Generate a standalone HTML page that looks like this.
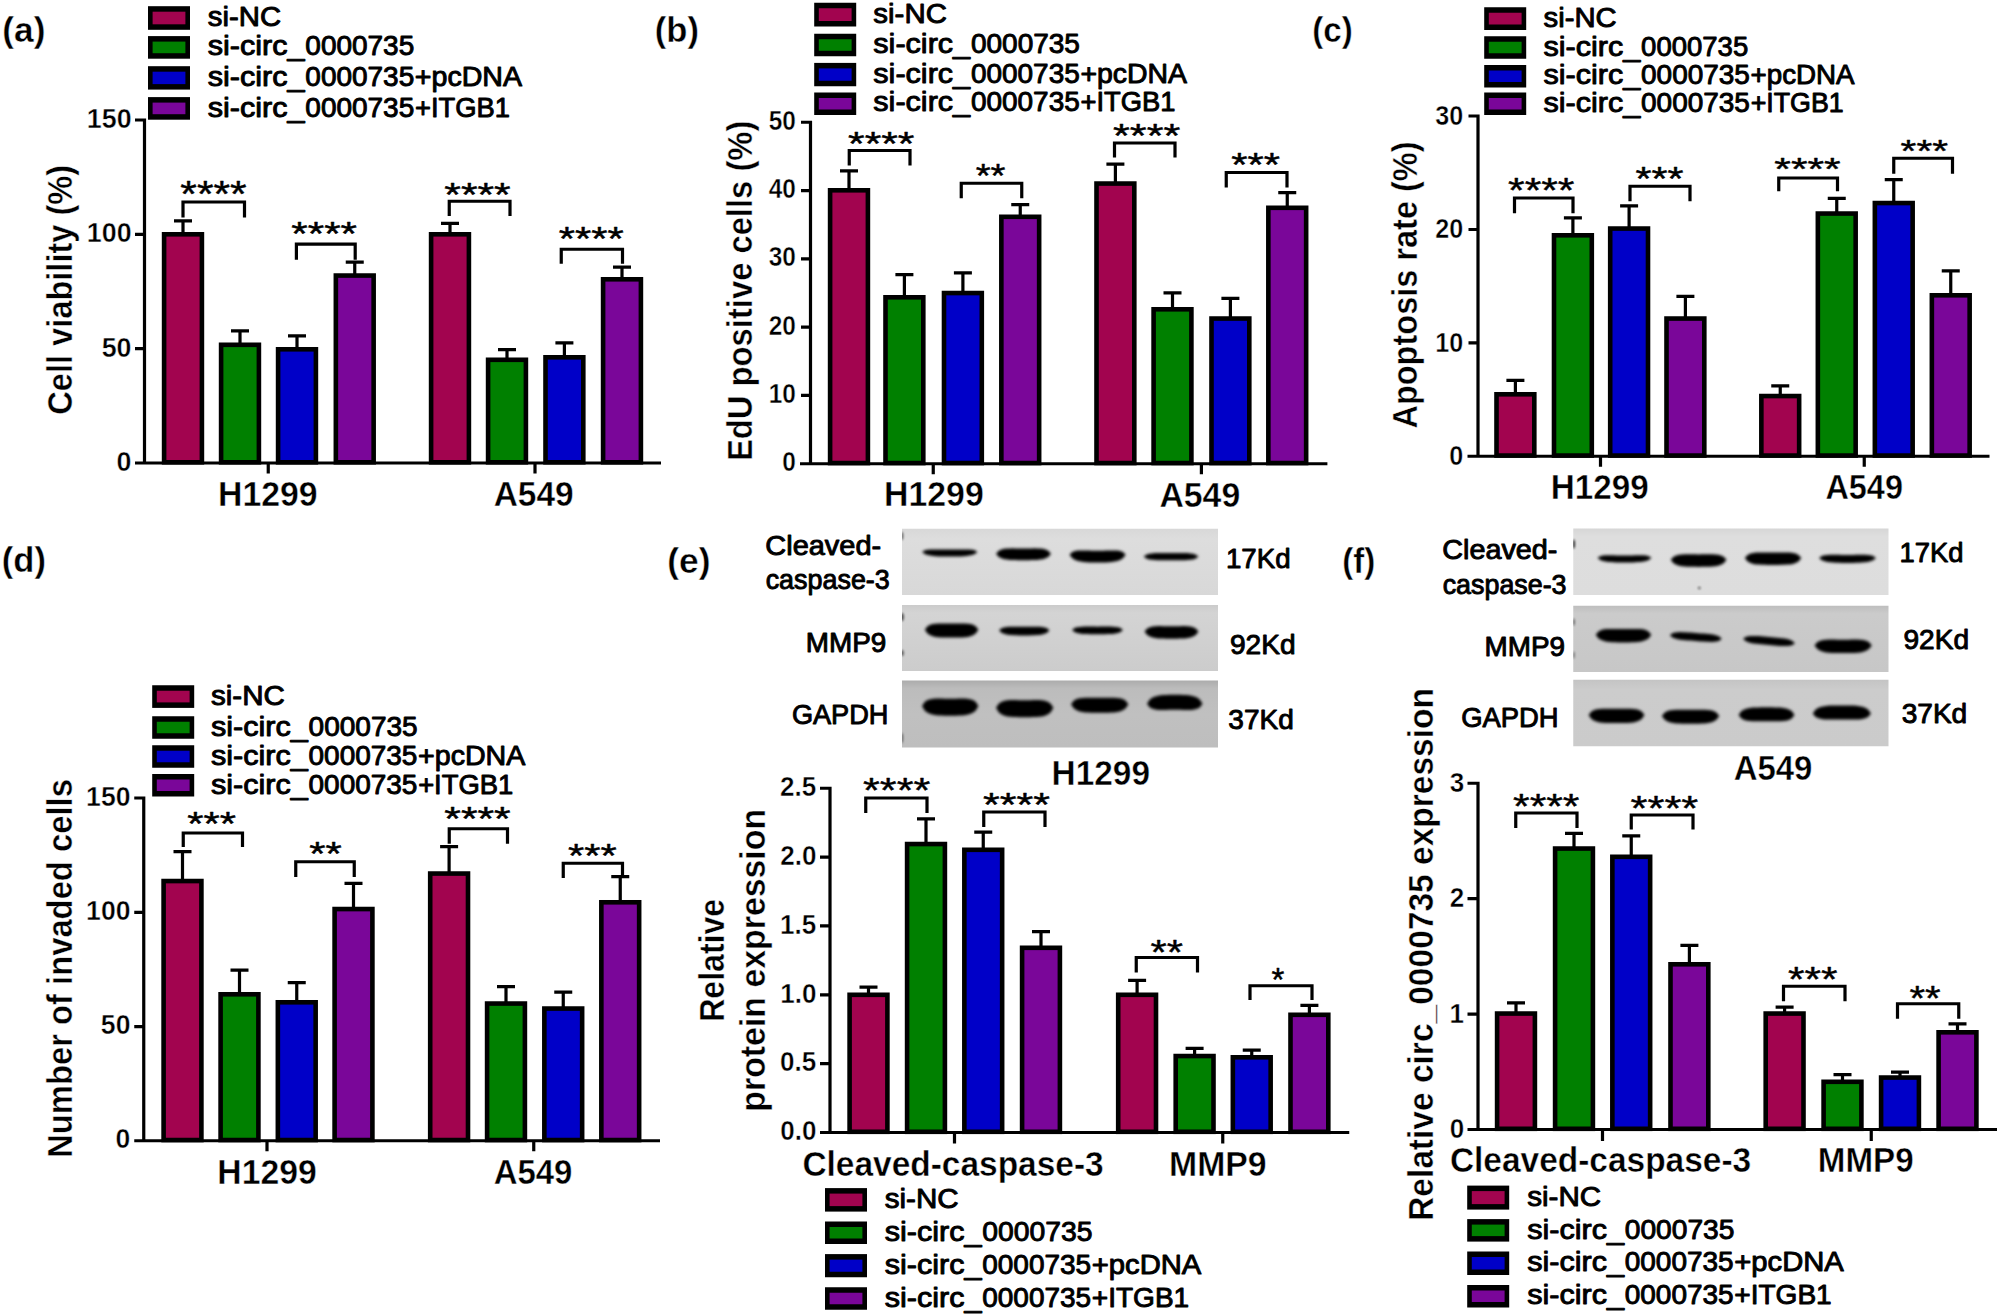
<!DOCTYPE html>
<html><head><meta charset="utf-8"><title>Figure</title>
<style>html,body{margin:0;padding:0;background:#fff}svg{display:block}text{font-family:"Liberation Sans",sans-serif;fill:#000;white-space:pre}text.r{stroke:#000;stroke-width:0.95px;stroke-linejoin:round}text.s{stroke:#000;stroke-width:0.45px;stroke-linejoin:round}text[font-weight=bold]{stroke:#fff;stroke-width:0.4px}</style>
</head><body>
<svg width="2000" height="1316" viewBox="0 0 2000 1316">
<rect width="2000" height="1316" fill="#fff"/>
<text x="2.34" y="41.66" font-size="34.3" font-weight="bold" textLength="43.08" lengthAdjust="spacingAndGlyphs" >(a)</text>
<rect x="148.00" y="6.20" width="42.00" height="23.60" fill="#000"/><rect x="152.60" y="11.70" width="32.80" height="12.60" fill="#A2044F"/>
<text x="207.82" y="26.30" font-size="27.5" class="r" textLength="73.24" lengthAdjust="spacingAndGlyphs" >si-NC</text>
<rect x="148.00" y="36.10" width="42.00" height="22.60" fill="#000"/><rect x="152.60" y="41.60" width="32.80" height="11.60" fill="#008000"/>
<text y="55.00" font-size="27.5" class="r" ><tspan x="207.78" textLength="96.81" lengthAdjust="spacingAndGlyphs">si-circ_</tspan><tspan x="305.38" textLength="108.83" lengthAdjust="spacingAndGlyphs">0000735</tspan></text>
<rect x="148.00" y="66.20" width="42.00" height="23.40" fill="#000"/><rect x="152.60" y="71.70" width="32.80" height="12.40" fill="#0000C8"/>
<text y="86.00" font-size="27.5" class="r" ><tspan x="207.78" textLength="96.81" lengthAdjust="spacingAndGlyphs">si-circ_</tspan><tspan x="305.38" textLength="108.83" lengthAdjust="spacingAndGlyphs">0000735</tspan><tspan x="414.87" textLength="107.17" lengthAdjust="spacingAndGlyphs">+pcDNA</tspan></text>
<rect x="148.00" y="97.10" width="42.00" height="22.60" fill="#000"/><rect x="152.60" y="102.60" width="32.80" height="11.60" fill="#7A0699"/>
<text y="117.10" font-size="27.5" class="r" ><tspan x="207.78" textLength="96.81" lengthAdjust="spacingAndGlyphs">si-circ_</tspan><tspan x="305.38" textLength="108.83" lengthAdjust="spacingAndGlyphs">0000735</tspan><tspan x="414.93" textLength="95.01" lengthAdjust="spacingAndGlyphs">+ITGB1</tspan></text>
<path d="M174.00,220.80H192.00M183.00,220.80V233.00" stroke="#000" stroke-width="3.2" fill="none"/>
<rect x="164.10" y="234.30" width="37.80" height="228.00" fill="#A2044F" stroke="#000" stroke-width="4.6"/>
<path d="M231.00,330.80H249.00M240.00,330.80V343.50" stroke="#000" stroke-width="3.2" fill="none"/>
<rect x="221.10" y="344.80" width="37.80" height="117.50" fill="#008000" stroke="#000" stroke-width="4.6"/>
<path d="M288.00,335.80H306.00M297.00,335.80V348.00" stroke="#000" stroke-width="3.2" fill="none"/>
<rect x="278.10" y="349.30" width="37.80" height="113.00" fill="#0000C8" stroke="#000" stroke-width="4.6"/>
<path d="M345.75,262.05H363.75M354.75,262.05V274.25" stroke="#000" stroke-width="3.2" fill="none"/>
<rect x="335.85" y="275.55" width="37.80" height="186.75" fill="#7A0699" stroke="#000" stroke-width="4.6"/>
<path d="M441.00,223.30H459.00M450.00,223.30V233.00" stroke="#000" stroke-width="3.2" fill="none"/>
<rect x="431.10" y="234.30" width="37.80" height="228.00" fill="#A2044F" stroke="#000" stroke-width="4.6"/>
<path d="M498.00,349.55H516.00M507.00,349.55V358.50" stroke="#000" stroke-width="3.2" fill="none"/>
<rect x="488.10" y="359.80" width="37.80" height="102.50" fill="#008000" stroke="#000" stroke-width="4.6"/>
<path d="M555.40,342.80H573.40M564.40,342.80V356.00" stroke="#000" stroke-width="3.2" fill="none"/>
<rect x="545.50" y="357.30" width="37.80" height="105.00" fill="#0000C8" stroke="#000" stroke-width="4.6"/>
<path d="M613.00,267.05H631.00M622.00,267.05V278.00" stroke="#000" stroke-width="3.2" fill="none"/>
<rect x="603.10" y="279.30" width="37.80" height="183.00" fill="#7A0699" stroke="#000" stroke-width="4.6"/>
<path d="M144.50,118.40V463.00M135.00,463.00H661.00M135.00,120.00H144.50M135.00,234.40H144.50M135.00,348.70H144.50M135.00,463.00H144.50M268.25,463.00V473.50M535.00,463.00V473.50" stroke="#000" stroke-width="3.2" fill="none"/>
<text x="86.79" y="127.90" font-size="26.8" font-weight="bold" textLength="44.78" lengthAdjust="spacingAndGlyphs" >150</text>
<text x="86.79" y="242.30" font-size="26.8" font-weight="bold" textLength="44.78" lengthAdjust="spacingAndGlyphs" >100</text>
<text x="101.68" y="356.60" font-size="26.8" font-weight="bold" textLength="29.85" lengthAdjust="spacingAndGlyphs" >50</text>
<text x="116.58" y="470.90" font-size="26.8" font-weight="bold" textLength="14.93" lengthAdjust="spacingAndGlyphs" >0</text>
<text x="218.00" y="506.30" font-size="35" font-weight="bold" textLength="99.64" lengthAdjust="spacingAndGlyphs" >H1299</text>
<text x="493.66" y="505.50" font-size="35" font-weight="bold" textLength="80.03" lengthAdjust="spacingAndGlyphs" >A549</text>
<text transform="translate(72.00,413.40) rotate(-90)" x="-1.30" y="0" font-size="35" font-weight="bold" textLength="249.88" lengthAdjust="spacingAndGlyphs">Cell viability (%)</text>
<path d="M183.00,217.50V202.00H244.50V217.50" stroke="#000" stroke-width="3.2" fill="none" stroke-linejoin="miter"/>
<text x="180.36" y="207.05" font-size="36.6" class="s" textLength="66.35" lengthAdjust="spacingAndGlyphs" >****</text>
<path d="M296.40,259.70V244.20H355.20V259.70" stroke="#000" stroke-width="3.2" fill="none" stroke-linejoin="miter"/>
<text x="291.37" y="244.57" font-size="33.0" class="s" textLength="65.58" lengthAdjust="spacingAndGlyphs" >****</text>
<path d="M449.25,216.00V201.25H510.00V216.00" stroke="#000" stroke-width="3.2" fill="none" stroke-linejoin="miter"/>
<text x="444.36" y="205.55" font-size="33.7" class="s" textLength="66.35" lengthAdjust="spacingAndGlyphs" >****</text>
<path d="M561.25,263.75V249.25H622.50V263.75" stroke="#000" stroke-width="3.2" fill="none" stroke-linejoin="miter"/>
<text x="558.88" y="249.59" font-size="32.3" class="s" textLength="64.81" lengthAdjust="spacingAndGlyphs" >****</text>
<text x="654.77" y="41.66" font-size="34.3" font-weight="bold" textLength="44.15" lengthAdjust="spacingAndGlyphs" >(b)</text>
<rect x="814.20" y="2.75" width="42.00" height="23.75" fill="#000"/><rect x="818.80" y="8.25" width="32.80" height="12.75" fill="#A2044F"/>
<text x="873.37" y="22.90" font-size="27.5" class="r" textLength="73.55" lengthAdjust="spacingAndGlyphs" >si-NC</text>
<rect x="814.20" y="33.75" width="42.00" height="22.50" fill="#000"/><rect x="818.80" y="39.25" width="32.80" height="11.50" fill="#008000"/>
<text y="53.10" font-size="27.5" class="r" ><tspan x="873.33" textLength="96.81" lengthAdjust="spacingAndGlyphs">si-circ_</tspan><tspan x="970.93" textLength="109.03" lengthAdjust="spacingAndGlyphs">0000735</tspan></text>
<rect x="814.20" y="62.90" width="42.00" height="23.35" fill="#000"/><rect x="818.80" y="68.40" width="32.80" height="12.35" fill="#0000C8"/>
<text y="82.50" font-size="27.5" class="r" ><tspan x="873.33" textLength="96.81" lengthAdjust="spacingAndGlyphs">si-circ_</tspan><tspan x="970.93" textLength="108.83" lengthAdjust="spacingAndGlyphs">0000735</tspan><tspan x="1080.43" textLength="106.62" lengthAdjust="spacingAndGlyphs">+pcDNA</tspan></text>
<rect x="814.20" y="92.50" width="42.00" height="22.50" fill="#000"/><rect x="818.80" y="98.00" width="32.80" height="11.50" fill="#7A0699"/>
<text y="111.25" font-size="27.5" class="r" ><tspan x="873.33" textLength="96.81" lengthAdjust="spacingAndGlyphs">si-circ_</tspan><tspan x="970.93" textLength="108.83" lengthAdjust="spacingAndGlyphs">0000735</tspan><tspan x="1080.48" textLength="94.96" lengthAdjust="spacingAndGlyphs">+ITGB1</tspan></text>
<path d="M840.00,170.80H858.00M849.00,170.80V189.00" stroke="#000" stroke-width="3.2" fill="none"/>
<rect x="830.10" y="190.30" width="37.80" height="272.75" fill="#A2044F" stroke="#000" stroke-width="4.6"/>
<path d="M895.40,274.55H913.40M904.40,274.55V296.00" stroke="#000" stroke-width="3.2" fill="none"/>
<rect x="885.50" y="297.30" width="37.80" height="165.75" fill="#008000" stroke="#000" stroke-width="4.6"/>
<path d="M953.90,272.80H971.90M962.90,272.80V291.75" stroke="#000" stroke-width="3.2" fill="none"/>
<rect x="944.00" y="293.05" width="37.80" height="170.00" fill="#0000C8" stroke="#000" stroke-width="4.6"/>
<path d="M1011.25,204.55H1029.25M1020.25,204.55V215.50" stroke="#000" stroke-width="3.2" fill="none"/>
<rect x="1001.35" y="216.80" width="37.80" height="246.25" fill="#7A0699" stroke="#000" stroke-width="4.6"/>
<path d="M1106.40,164.05H1124.40M1115.40,164.05V182.25" stroke="#000" stroke-width="3.2" fill="none"/>
<rect x="1096.50" y="183.55" width="37.80" height="279.50" fill="#A2044F" stroke="#000" stroke-width="4.6"/>
<path d="M1163.50,292.80H1181.50M1172.50,292.80V308.00" stroke="#000" stroke-width="3.2" fill="none"/>
<rect x="1153.60" y="309.30" width="37.80" height="153.75" fill="#008000" stroke="#000" stroke-width="4.6"/>
<path d="M1221.40,298.30H1239.40M1230.40,298.30V317.25" stroke="#000" stroke-width="3.2" fill="none"/>
<rect x="1211.50" y="318.55" width="37.80" height="144.50" fill="#0000C8" stroke="#000" stroke-width="4.6"/>
<path d="M1278.25,192.55H1296.25M1287.25,192.55V206.50" stroke="#000" stroke-width="3.2" fill="none"/>
<rect x="1268.35" y="207.80" width="37.80" height="255.25" fill="#7A0699" stroke="#000" stroke-width="4.6"/>
<path d="M810.50,120.65V463.75M800.00,463.75H1327.40M801.00,122.25H810.50M801.00,190.55H810.50M801.00,258.85H810.50M801.00,327.15H810.50M801.00,395.45H810.50M801.00,463.75H810.50M933.25,463.75V474.25M1201.40,463.75V474.25" stroke="#000" stroke-width="3.2" fill="none"/>
<text x="768.67" y="129.85" font-size="26.8" font-weight="bold" textLength="27.17" lengthAdjust="spacingAndGlyphs" >50</text>
<text x="768.67" y="198.15" font-size="26.8" font-weight="bold" textLength="27.17" lengthAdjust="spacingAndGlyphs" >40</text>
<text x="768.67" y="266.45" font-size="26.8" font-weight="bold" textLength="27.17" lengthAdjust="spacingAndGlyphs" >30</text>
<text x="768.67" y="334.75" font-size="26.8" font-weight="bold" textLength="27.17" lengthAdjust="spacingAndGlyphs" >20</text>
<text x="768.67" y="403.05" font-size="26.8" font-weight="bold" textLength="27.17" lengthAdjust="spacingAndGlyphs" >10</text>
<text x="782.22" y="471.35" font-size="26.8" font-weight="bold" textLength="13.58" lengthAdjust="spacingAndGlyphs" >0</text>
<text x="884.05" y="506.25" font-size="35" font-weight="bold" textLength="99.70" lengthAdjust="spacingAndGlyphs" >H1299</text>
<text x="1159.41" y="506.90" font-size="35" font-weight="bold" textLength="80.80" lengthAdjust="spacingAndGlyphs" >A549</text>
<text transform="translate(751.50,458.90) rotate(-90)" x="-2.13" y="0" font-size="35" font-weight="bold" textLength="340.36" lengthAdjust="spacingAndGlyphs">EdU positive cells (%)</text>
<path d="M849.25,165.50V150.50H910.00V165.50" stroke="#000" stroke-width="3.2" fill="none" stroke-linejoin="miter"/>
<text x="848.11" y="154.80" font-size="33.7" class="s" textLength="66.35" lengthAdjust="spacingAndGlyphs" >****</text>
<path d="M961.25,198.25V183.25H1021.75V198.25" stroke="#000" stroke-width="3.2" fill="none" stroke-linejoin="miter"/>
<text x="975.67" y="186.80" font-size="33.7" class="s" textLength="29.83" lengthAdjust="spacingAndGlyphs" >**</text>
<path d="M1114.50,157.50V143.00H1175.00V157.50" stroke="#000" stroke-width="3.2" fill="none" stroke-linejoin="miter"/>
<text x="1113.10" y="147.30" font-size="33.7" class="s" textLength="67.11" lengthAdjust="spacingAndGlyphs" >****</text>
<path d="M1226.25,187.50V172.50H1287.00V187.50" stroke="#000" stroke-width="3.2" fill="none" stroke-linejoin="miter"/>
<text x="1231.38" y="176.32" font-size="33.0" class="s" textLength="48.64" lengthAdjust="spacingAndGlyphs" >***</text>
<text x="1312.34" y="41.66" font-size="34.3" font-weight="bold" textLength="40.47" lengthAdjust="spacingAndGlyphs" >(c)</text>
<rect x="1484.20" y="7.25" width="42.00" height="22.75" fill="#000"/><rect x="1488.80" y="12.75" width="32.80" height="11.75" fill="#A2044F"/>
<text x="1543.52" y="27.10" font-size="27.5" class="r" textLength="73.14" lengthAdjust="spacingAndGlyphs" >si-NC</text>
<rect x="1484.20" y="36.25" width="42.00" height="22.50" fill="#000"/><rect x="1488.80" y="41.75" width="32.80" height="11.50" fill="#008000"/>
<text y="55.60" font-size="27.5" class="r" ><tspan x="1543.48" textLength="96.81" lengthAdjust="spacingAndGlyphs">si-circ_</tspan><tspan x="1641.10" textLength="107.09" lengthAdjust="spacingAndGlyphs">0000735</tspan></text>
<rect x="1484.20" y="65.00" width="42.00" height="22.50" fill="#000"/><rect x="1488.80" y="70.50" width="32.80" height="11.50" fill="#0000C8"/>
<text y="84.00" font-size="27.5" class="r" ><tspan x="1543.48" textLength="96.81" lengthAdjust="spacingAndGlyphs">si-circ_</tspan><tspan x="1641.08" textLength="108.83" lengthAdjust="spacingAndGlyphs">0000735</tspan><tspan x="1750.61" textLength="103.93" lengthAdjust="spacingAndGlyphs">+pcDNA</tspan></text>
<rect x="1484.20" y="92.50" width="42.00" height="22.50" fill="#000"/><rect x="1488.80" y="98.00" width="32.80" height="11.50" fill="#7A0699"/>
<text y="111.90" font-size="27.5" class="r" ><tspan x="1543.48" textLength="96.81" lengthAdjust="spacingAndGlyphs">si-circ_</tspan><tspan x="1641.08" textLength="108.83" lengthAdjust="spacingAndGlyphs">0000735</tspan><tspan x="1750.66" textLength="93.01" lengthAdjust="spacingAndGlyphs">+ITGB1</tspan></text>
<path d="M1506.40,380.30H1524.40M1515.40,380.30V393.00" stroke="#000" stroke-width="3.2" fill="none"/>
<rect x="1496.50" y="394.30" width="37.80" height="61.25" fill="#A2044F" stroke="#000" stroke-width="4.6"/>
<path d="M1563.90,217.80H1581.90M1572.90,217.80V234.00" stroke="#000" stroke-width="3.2" fill="none"/>
<rect x="1554.00" y="235.30" width="37.80" height="220.25" fill="#008000" stroke="#000" stroke-width="4.6"/>
<path d="M1620.10,205.80H1638.10M1629.10,205.80V227.25" stroke="#000" stroke-width="3.2" fill="none"/>
<rect x="1610.20" y="228.55" width="37.80" height="227.00" fill="#0000C8" stroke="#000" stroke-width="4.6"/>
<path d="M1676.40,296.30H1694.40M1685.40,296.30V317.25" stroke="#000" stroke-width="3.2" fill="none"/>
<rect x="1666.50" y="318.55" width="37.80" height="137.00" fill="#7A0699" stroke="#000" stroke-width="4.6"/>
<path d="M1771.25,385.80H1789.25M1780.25,385.80V394.75" stroke="#000" stroke-width="3.2" fill="none"/>
<rect x="1761.35" y="396.05" width="37.80" height="59.50" fill="#A2044F" stroke="#000" stroke-width="4.6"/>
<path d="M1827.75,198.30H1845.75M1836.75,198.30V212.25" stroke="#000" stroke-width="3.2" fill="none"/>
<rect x="1817.85" y="213.55" width="37.80" height="242.00" fill="#008000" stroke="#000" stroke-width="4.6"/>
<path d="M1884.75,179.55H1902.75M1893.75,179.55V201.75" stroke="#000" stroke-width="3.2" fill="none"/>
<rect x="1874.85" y="203.05" width="37.80" height="252.50" fill="#0000C8" stroke="#000" stroke-width="4.6"/>
<path d="M1941.75,270.80H1959.75M1950.75,270.80V294.00" stroke="#000" stroke-width="3.2" fill="none"/>
<rect x="1931.85" y="295.30" width="37.80" height="160.25" fill="#7A0699" stroke="#000" stroke-width="4.6"/>
<path d="M1478.00,114.40V456.25M1467.50,456.25H1989.50M1468.50,116.00H1478.00M1468.50,229.50H1478.00M1468.50,342.90H1478.00M1468.50,456.25H1478.00M1600.50,456.25V466.75M1864.25,456.25V466.75" stroke="#000" stroke-width="3.2" fill="none"/>
<text x="1435.37" y="124.70" font-size="26.8" font-weight="bold" textLength="27.99" lengthAdjust="spacingAndGlyphs" >30</text>
<text x="1435.37" y="238.20" font-size="26.8" font-weight="bold" textLength="27.99" lengthAdjust="spacingAndGlyphs" >20</text>
<text x="1435.37" y="351.60" font-size="26.8" font-weight="bold" textLength="27.99" lengthAdjust="spacingAndGlyphs" >10</text>
<text x="1449.34" y="464.95" font-size="26.8" font-weight="bold" textLength="14.00" lengthAdjust="spacingAndGlyphs" >0</text>
<text x="1550.84" y="498.75" font-size="35" font-weight="bold" textLength="97.88" lengthAdjust="spacingAndGlyphs" >H1299</text>
<text x="1825.44" y="498.75" font-size="35" font-weight="bold" textLength="77.47" lengthAdjust="spacingAndGlyphs" >A549</text>
<text transform="translate(1417.20,427.80) rotate(-90)" x="-0.81" y="0" font-size="35" font-weight="bold" textLength="287.21" lengthAdjust="spacingAndGlyphs">Apoptosis rate (%)</text>
<path d="M1514.50,213.25V198.00H1573.00V213.25" stroke="#000" stroke-width="3.2" fill="none" stroke-linejoin="miter"/>
<text x="1508.11" y="201.52" font-size="35.1" class="s" textLength="66.35" lengthAdjust="spacingAndGlyphs" >****</text>
<path d="M1630.00,201.25V186.25H1690.00V201.25" stroke="#000" stroke-width="3.2" fill="none" stroke-linejoin="miter"/>
<text x="1635.63" y="190.09" font-size="32.3" class="s" textLength="47.87" lengthAdjust="spacingAndGlyphs" >***</text>
<path d="M1778.75,191.25V178.00H1837.50V191.25" stroke="#000" stroke-width="3.2" fill="none" stroke-linejoin="miter"/>
<text x="1774.36" y="180.35" font-size="31.6" class="s" textLength="66.35" lengthAdjust="spacingAndGlyphs" >****</text>
<path d="M1893.75,173.75V158.25H1952.50V173.75" stroke="#000" stroke-width="3.2" fill="none" stroke-linejoin="miter"/>
<text x="1900.64" y="161.60" font-size="31.6" class="s" textLength="47.36" lengthAdjust="spacingAndGlyphs" >***</text>
<text x="1.77" y="571.66" font-size="34.3" font-weight="bold" textLength="44.15" lengthAdjust="spacingAndGlyphs" >(d)</text>
<rect x="152.20" y="685.25" width="42.00" height="22.65" fill="#000"/><rect x="156.80" y="690.75" width="32.80" height="11.65" fill="#A2044F"/>
<text x="211.01" y="705.40" font-size="27.5" class="r" textLength="73.91" lengthAdjust="spacingAndGlyphs" >si-NC</text>
<rect x="152.20" y="716.25" width="42.00" height="22.50" fill="#000"/><rect x="156.80" y="721.75" width="32.80" height="11.50" fill="#008000"/>
<text y="736.20" font-size="27.5" class="r" ><tspan x="210.98" textLength="96.81" lengthAdjust="spacingAndGlyphs">si-circ_</tspan><tspan x="308.58" textLength="109.03" lengthAdjust="spacingAndGlyphs">0000735</tspan></text>
<rect x="152.20" y="745.25" width="42.00" height="22.50" fill="#000"/><rect x="156.80" y="750.75" width="32.80" height="11.50" fill="#0000C8"/>
<text y="765.10" font-size="27.5" class="r" ><tspan x="210.98" textLength="96.81" lengthAdjust="spacingAndGlyphs">si-circ_</tspan><tspan x="308.58" textLength="108.83" lengthAdjust="spacingAndGlyphs">0000735</tspan><tspan x="418.07" textLength="107.27" lengthAdjust="spacingAndGlyphs">+pcDNA</tspan></text>
<rect x="152.20" y="774.00" width="42.00" height="22.50" fill="#000"/><rect x="156.80" y="779.50" width="32.80" height="11.50" fill="#7A0699"/>
<text y="794.00" font-size="27.5" class="r" ><tspan x="210.98" textLength="96.81" lengthAdjust="spacingAndGlyphs">si-circ_</tspan><tspan x="308.58" textLength="108.83" lengthAdjust="spacingAndGlyphs">0000735</tspan><tspan x="418.13" textLength="95.17" lengthAdjust="spacingAndGlyphs">+ITGB1</tspan></text>
<path d="M173.50,851.55H191.50M182.50,851.55V879.75" stroke="#000" stroke-width="3.2" fill="none"/>
<rect x="163.60" y="881.05" width="37.80" height="259.00" fill="#A2044F" stroke="#000" stroke-width="4.6"/>
<path d="M230.50,970.05H248.50M239.50,970.05V993.00" stroke="#000" stroke-width="3.2" fill="none"/>
<rect x="220.60" y="994.30" width="37.80" height="145.75" fill="#008000" stroke="#000" stroke-width="4.6"/>
<path d="M287.75,982.55H305.75M296.75,982.55V1001.00" stroke="#000" stroke-width="3.2" fill="none"/>
<rect x="277.85" y="1002.30" width="37.80" height="137.75" fill="#0000C8" stroke="#000" stroke-width="4.6"/>
<path d="M344.50,883.30H362.50M353.50,883.30V907.75" stroke="#000" stroke-width="3.2" fill="none"/>
<rect x="334.60" y="909.05" width="37.80" height="231.00" fill="#7A0699" stroke="#000" stroke-width="4.6"/>
<path d="M440.10,846.55H458.10M449.10,846.55V872.25" stroke="#000" stroke-width="3.2" fill="none"/>
<rect x="430.20" y="873.55" width="37.80" height="266.50" fill="#A2044F" stroke="#000" stroke-width="4.6"/>
<path d="M497.00,986.55H515.00M506.00,986.55V1002.25" stroke="#000" stroke-width="3.2" fill="none"/>
<rect x="487.10" y="1003.55" width="37.80" height="136.50" fill="#008000" stroke="#000" stroke-width="4.6"/>
<path d="M554.25,992.05H572.25M563.25,992.05V1007.25" stroke="#000" stroke-width="3.2" fill="none"/>
<rect x="544.35" y="1008.55" width="37.80" height="131.50" fill="#0000C8" stroke="#000" stroke-width="4.6"/>
<path d="M611.25,876.55H629.25M620.25,876.55V901.00" stroke="#000" stroke-width="3.2" fill="none"/>
<rect x="601.35" y="902.30" width="37.80" height="237.75" fill="#7A0699" stroke="#000" stroke-width="4.6"/>
<path d="M143.75,796.40V1140.75M135.00,1140.75H660.00M134.25,798.00H143.75M134.25,912.40H143.75M134.25,1026.60H143.75M134.25,1140.75H143.75M267.00,1140.75V1151.25M533.75,1140.75V1151.25" stroke="#000" stroke-width="3.2" fill="none"/>
<text x="86.11" y="805.50" font-size="26.8" font-weight="bold" textLength="44.35" lengthAdjust="spacingAndGlyphs" >150</text>
<text x="86.11" y="919.90" font-size="26.8" font-weight="bold" textLength="44.35" lengthAdjust="spacingAndGlyphs" >100</text>
<text x="100.86" y="1034.10" font-size="26.8" font-weight="bold" textLength="29.57" lengthAdjust="spacingAndGlyphs" >50</text>
<text x="115.61" y="1148.25" font-size="26.8" font-weight="bold" textLength="14.78" lengthAdjust="spacingAndGlyphs" >0</text>
<text x="217.31" y="1184.00" font-size="35" font-weight="bold" textLength="99.44" lengthAdjust="spacingAndGlyphs" >H1299</text>
<text x="493.68" y="1184.00" font-size="35" font-weight="bold" textLength="78.75" lengthAdjust="spacingAndGlyphs" >A549</text>
<text transform="translate(72.00,1155.80) rotate(-90)" x="-2.13" y="0" font-size="35" font-weight="bold" textLength="378.80" lengthAdjust="spacingAndGlyphs">Number of invaded cells</text>
<path d="M183.25,847.00V833.00H242.50V847.00" stroke="#000" stroke-width="3.2" fill="none" stroke-linejoin="miter"/>
<text x="187.38" y="835.07" font-size="33.0" class="s" textLength="48.64" lengthAdjust="spacingAndGlyphs" >***</text>
<path d="M295.75,877.00V861.75H354.25V877.00" stroke="#000" stroke-width="3.2" fill="none" stroke-linejoin="miter"/>
<text x="309.38" y="865.07" font-size="33.0" class="s" textLength="32.43" lengthAdjust="spacingAndGlyphs" >**</text>
<path d="M449.25,843.75V828.75H507.50V843.75" stroke="#000" stroke-width="3.2" fill="none" stroke-linejoin="miter"/>
<text x="444.36" y="830.09" font-size="32.3" class="s" textLength="66.35" lengthAdjust="spacingAndGlyphs" >****</text>
<path d="M563.25,878.00V863.25H622.50V878.00" stroke="#000" stroke-width="3.2" fill="none" stroke-linejoin="miter"/>
<text x="568.12" y="866.80" font-size="33.7" class="s" textLength="48.64" lengthAdjust="spacingAndGlyphs" >***</text>
<text x="667.23" y="572.66" font-size="34.3" font-weight="bold" textLength="43.19" lengthAdjust="spacingAndGlyphs" >(e)</text>
<path d="M859.50,987.05H877.50M868.50,987.05V993.50" stroke="#000" stroke-width="3.2" fill="none"/>
<rect x="849.60" y="994.80" width="37.80" height="137.00" fill="#A2044F" stroke="#000" stroke-width="4.6"/>
<path d="M917.00,818.80H935.00M926.00,818.80V842.75" stroke="#000" stroke-width="3.2" fill="none"/>
<rect x="907.10" y="844.05" width="37.80" height="287.75" fill="#008000" stroke="#000" stroke-width="4.6"/>
<path d="M974.25,832.05H992.25M983.25,832.05V848.50" stroke="#000" stroke-width="3.2" fill="none"/>
<rect x="964.35" y="849.80" width="37.80" height="282.00" fill="#0000C8" stroke="#000" stroke-width="4.6"/>
<path d="M1032.00,931.55H1050.00M1041.00,931.55V946.50" stroke="#000" stroke-width="3.2" fill="none"/>
<rect x="1022.10" y="947.80" width="37.80" height="184.00" fill="#7A0699" stroke="#000" stroke-width="4.6"/>
<path d="M1128.10,980.30H1146.10M1137.10,980.30V993.50" stroke="#000" stroke-width="3.2" fill="none"/>
<rect x="1118.20" y="994.80" width="37.80" height="137.00" fill="#A2044F" stroke="#000" stroke-width="4.6"/>
<path d="M1185.60,1048.30H1203.60M1194.60,1048.30V1054.75" stroke="#000" stroke-width="3.2" fill="none"/>
<rect x="1175.70" y="1056.05" width="37.80" height="75.75" fill="#008000" stroke="#000" stroke-width="4.6"/>
<path d="M1242.75,1050.05H1260.75M1251.75,1050.05V1056.00" stroke="#000" stroke-width="3.2" fill="none"/>
<rect x="1232.85" y="1057.30" width="37.80" height="74.50" fill="#0000C8" stroke="#000" stroke-width="4.6"/>
<path d="M1300.40,1005.30H1318.40M1309.40,1005.30V1013.50" stroke="#000" stroke-width="3.2" fill="none"/>
<rect x="1290.50" y="1014.80" width="37.80" height="117.00" fill="#7A0699" stroke="#000" stroke-width="4.6"/>
<path d="M830.00,786.65V1132.50M820.00,1132.50H1349.25M820.00,788.25H830.00M820.00,857.10H830.00M820.00,925.95H830.00M820.00,994.80H830.00M820.00,1063.65H830.00M820.00,1132.50H830.00M954.50,1132.50V1143.50M1222.75,1132.50V1143.50" stroke="#000" stroke-width="3.2" fill="none"/>
<text x="779.94" y="795.95" font-size="26.8" font-weight="bold" textLength="36.22" lengthAdjust="spacingAndGlyphs" >2.5</text>
<text x="780.33" y="864.80" font-size="26.8" font-weight="bold" textLength="36.22" lengthAdjust="spacingAndGlyphs" >2.0</text>
<text x="779.94" y="933.65" font-size="26.8" font-weight="bold" textLength="36.22" lengthAdjust="spacingAndGlyphs" >1.5</text>
<text x="780.33" y="1002.50" font-size="26.8" font-weight="bold" textLength="36.22" lengthAdjust="spacingAndGlyphs" >1.0</text>
<text x="779.94" y="1071.35" font-size="26.8" font-weight="bold" textLength="36.22" lengthAdjust="spacingAndGlyphs" >0.5</text>
<text x="780.33" y="1140.20" font-size="26.8" font-weight="bold" textLength="36.22" lengthAdjust="spacingAndGlyphs" >0.0</text>
<text x="802.41" y="1175.75" font-size="35" font-weight="bold" textLength="301.28" lengthAdjust="spacingAndGlyphs" >Cleaved-caspase-3</text>
<text x="1169.05" y="1176.00" font-size="35" font-weight="bold" textLength="97.60" lengthAdjust="spacingAndGlyphs" >MMP9</text>
<text transform="translate(724.25,1019.75) rotate(-90)" x="-2.08" y="0" font-size="35" font-weight="bold" textLength="122.97" lengthAdjust="spacingAndGlyphs">Relative</text>
<text transform="translate(765.00,1109.50) rotate(-90)" x="-2.20" y="0" font-size="35" font-weight="bold" textLength="302.80" lengthAdjust="spacingAndGlyphs">protein expression</text>
<path d="M865.75,813.00V798.00H927.00V813.00" stroke="#000" stroke-width="3.2" fill="none" stroke-linejoin="miter"/>
<text x="863.10" y="801.52" font-size="35.1" class="s" textLength="67.11" lengthAdjust="spacingAndGlyphs" >****</text>
<path d="M983.75,827.00V812.00H1045.00V827.00" stroke="#000" stroke-width="3.2" fill="none" stroke-linejoin="miter"/>
<text x="983.11" y="816.05" font-size="33.7" class="s" textLength="66.86" lengthAdjust="spacingAndGlyphs" >****</text>
<path d="M1136.25,972.50V957.50H1197.50V972.50" stroke="#000" stroke-width="3.2" fill="none" stroke-linejoin="miter"/>
<text x="1150.62" y="964.02" font-size="35.1" class="s" textLength="32.43" lengthAdjust="spacingAndGlyphs" >**</text>
<path d="M1250.00,1000.00V985.75H1312.00V1000.00" stroke="#000" stroke-width="3.2" fill="none" stroke-linejoin="miter"/>
<text x="1271.51" y="991.32" font-size="33.0" class="s"  >*</text>
<text x="1051.58" y="785.00" font-size="35" font-weight="bold" textLength="98.40" lengthAdjust="spacingAndGlyphs" >H1299</text>
<rect x="825.00" y="1188.10" width="42.00" height="23.50" fill="#000"/><rect x="829.60" y="1193.60" width="32.80" height="12.50" fill="#A2044F"/>
<text x="884.71" y="1208.10" font-size="27.5" class="r" textLength="73.96" lengthAdjust="spacingAndGlyphs" >si-NC</text>
<rect x="825.00" y="1221.50" width="42.00" height="22.50" fill="#000"/><rect x="829.60" y="1227.00" width="32.80" height="11.50" fill="#008000"/>
<text y="1241.20" font-size="27.5" class="r" ><tspan x="884.68" textLength="96.81" lengthAdjust="spacingAndGlyphs">si-circ_</tspan><tspan x="982.27" textLength="110.21" lengthAdjust="spacingAndGlyphs">0000735</tspan></text>
<rect x="825.00" y="1254.10" width="42.00" height="23.15" fill="#000"/><rect x="829.60" y="1259.60" width="32.80" height="12.15" fill="#0000C8"/>
<text y="1273.75" font-size="27.5" class="r" ><tspan x="884.68" textLength="96.81" lengthAdjust="spacingAndGlyphs">si-circ_</tspan><tspan x="982.28" textLength="108.83" lengthAdjust="spacingAndGlyphs">0000735</tspan><tspan x="1091.74" textLength="109.56" lengthAdjust="spacingAndGlyphs">+pcDNA</tspan></text>
<rect x="825.00" y="1287.25" width="42.00" height="22.50" fill="#000"/><rect x="829.60" y="1292.75" width="32.80" height="11.50" fill="#7A0699"/>
<text y="1306.90" font-size="27.5" class="r" ><tspan x="884.68" textLength="96.81" lengthAdjust="spacingAndGlyphs">si-circ_</tspan><tspan x="982.28" textLength="108.83" lengthAdjust="spacingAndGlyphs">0000735</tspan><tspan x="1091.80" textLength="97.43" lengthAdjust="spacingAndGlyphs">+ITGB1</tspan></text>
<text x="1342.35" y="572.66" font-size="34.3" font-weight="bold" textLength="33.03" lengthAdjust="spacingAndGlyphs" >(f)</text>
<path d="M1507.00,1002.80H1525.00M1516.00,1002.80V1012.25" stroke="#000" stroke-width="3.2" fill="none"/>
<rect x="1497.10" y="1013.55" width="37.80" height="115.25" fill="#A2044F" stroke="#000" stroke-width="4.6"/>
<path d="M1565.00,833.30H1583.00M1574.00,833.30V847.25" stroke="#000" stroke-width="3.2" fill="none"/>
<rect x="1555.10" y="848.55" width="37.80" height="280.25" fill="#008000" stroke="#000" stroke-width="4.6"/>
<path d="M1622.25,835.80H1640.25M1631.25,835.80V855.50" stroke="#000" stroke-width="3.2" fill="none"/>
<rect x="1612.35" y="856.80" width="37.80" height="272.00" fill="#0000C8" stroke="#000" stroke-width="4.6"/>
<path d="M1680.40,945.30H1698.40M1689.40,945.30V963.00" stroke="#000" stroke-width="3.2" fill="none"/>
<rect x="1670.50" y="964.30" width="37.80" height="164.50" fill="#7A0699" stroke="#000" stroke-width="4.6"/>
<path d="M1775.60,1007.05H1793.60M1784.60,1007.05V1012.25" stroke="#000" stroke-width="3.2" fill="none"/>
<rect x="1765.70" y="1013.55" width="37.80" height="115.25" fill="#A2044F" stroke="#000" stroke-width="4.6"/>
<path d="M1833.50,1074.55H1851.50M1842.50,1074.55V1080.50" stroke="#000" stroke-width="3.2" fill="none"/>
<rect x="1823.60" y="1081.80" width="37.80" height="47.00" fill="#008000" stroke="#000" stroke-width="4.6"/>
<path d="M1891.00,1072.05H1909.00M1900.00,1072.05V1076.25" stroke="#000" stroke-width="3.2" fill="none"/>
<rect x="1881.10" y="1077.55" width="37.80" height="51.25" fill="#0000C8" stroke="#000" stroke-width="4.6"/>
<path d="M1948.50,1023.80H1966.50M1957.50,1023.80V1031.00" stroke="#000" stroke-width="3.2" fill="none"/>
<rect x="1938.60" y="1032.30" width="37.80" height="96.50" fill="#7A0699" stroke="#000" stroke-width="4.6"/>
<path d="M1478.00,781.65V1129.50M1467.50,1129.50H1997.00M1467.50,783.25H1478.00M1467.50,898.70H1478.00M1467.50,1014.10H1478.00M1467.50,1129.50H1478.00M1602.50,1129.50V1141.00M1871.25,1129.50V1141.00" stroke="#000" stroke-width="3.2" fill="none"/>
<text x="1449.65" y="791.85" font-size="26.8" font-weight="bold" textLength="14.49" lengthAdjust="spacingAndGlyphs" >3</text>
<text x="1449.78" y="907.30" font-size="26.8" font-weight="bold" textLength="14.49" lengthAdjust="spacingAndGlyphs" >2</text>
<text x="1449.39" y="1022.70" font-size="26.8" font-weight="bold" textLength="14.49" lengthAdjust="spacingAndGlyphs" >1</text>
<text x="1449.78" y="1138.10" font-size="26.8" font-weight="bold" textLength="14.49" lengthAdjust="spacingAndGlyphs" >0</text>
<text x="1449.91" y="1171.50" font-size="35" font-weight="bold" textLength="301.28" lengthAdjust="spacingAndGlyphs" >Cleaved-caspase-3</text>
<text x="1817.84" y="1172.00" font-size="35" font-weight="bold" textLength="95.79" lengthAdjust="spacingAndGlyphs" >MMP9</text>
<text transform="translate(1433.00,1218.80) rotate(-90)" x="-2.18" y="0" font-size="35" font-weight="bold" textLength="533.00" lengthAdjust="spacingAndGlyphs">Relative circ_0000735 expression</text>
<path d="M1515.75,828.00V813.00H1577.00V828.00" stroke="#000" stroke-width="3.2" fill="none" stroke-linejoin="miter"/>
<text x="1513.11" y="817.77" font-size="35.1" class="s" textLength="66.35" lengthAdjust="spacingAndGlyphs" >****</text>
<path d="M1631.25,829.50V815.00H1693.00V829.50" stroke="#000" stroke-width="3.2" fill="none" stroke-linejoin="miter"/>
<text x="1630.60" y="820.27" font-size="35.1" class="s" textLength="67.62" lengthAdjust="spacingAndGlyphs" >****</text>
<path d="M1783.50,1001.25V986.25H1845.00V1001.25" stroke="#000" stroke-width="3.2" fill="none" stroke-linejoin="miter"/>
<text x="1788.12" y="991.02" font-size="35.1" class="s" textLength="49.41" lengthAdjust="spacingAndGlyphs" >***</text>
<path d="M1897.50,1018.75V1003.75H1958.75V1018.75" stroke="#000" stroke-width="3.2" fill="none" stroke-linejoin="miter"/>
<text x="1909.40" y="1010.27" font-size="35.1" class="s" textLength="31.13" lengthAdjust="spacingAndGlyphs" >**</text>
<text x="1733.68" y="780.00" font-size="35" font-weight="bold" textLength="78.75" lengthAdjust="spacingAndGlyphs" >A549</text>
<rect x="1467.20" y="1185.60" width="42.00" height="24.00" fill="#000"/><rect x="1471.80" y="1191.10" width="32.80" height="13.00" fill="#A2044F"/>
<text x="1527.21" y="1206.00" font-size="27.5" class="r" textLength="73.96" lengthAdjust="spacingAndGlyphs" >si-NC</text>
<rect x="1467.20" y="1219.10" width="42.00" height="22.50" fill="#000"/><rect x="1471.80" y="1224.60" width="32.80" height="11.50" fill="#008000"/>
<text y="1238.75" font-size="27.5" class="r" ><tspan x="1527.18" textLength="96.81" lengthAdjust="spacingAndGlyphs">si-circ_</tspan><tspan x="1624.77" textLength="109.69" lengthAdjust="spacingAndGlyphs">0000735</tspan></text>
<rect x="1467.20" y="1251.50" width="42.00" height="23.50" fill="#000"/><rect x="1471.80" y="1257.00" width="32.80" height="12.50" fill="#0000C8"/>
<text y="1271.25" font-size="27.5" class="r" ><tspan x="1527.18" textLength="96.81" lengthAdjust="spacingAndGlyphs">si-circ_</tspan><tspan x="1624.78" textLength="108.83" lengthAdjust="spacingAndGlyphs">0000735</tspan><tspan x="1734.24" textLength="109.56" lengthAdjust="spacingAndGlyphs">+pcDNA</tspan></text>
<rect x="1467.20" y="1285.00" width="42.00" height="22.50" fill="#000"/><rect x="1471.80" y="1290.50" width="32.80" height="11.50" fill="#7A0699"/>
<text y="1304.40" font-size="27.5" class="r" ><tspan x="1527.18" textLength="96.81" lengthAdjust="spacingAndGlyphs">si-circ_</tspan><tspan x="1624.78" textLength="108.83" lengthAdjust="spacingAndGlyphs">0000735</tspan><tspan x="1734.30" textLength="97.43" lengthAdjust="spacingAndGlyphs">+ITGB1</tspan></text>
<filter id="bl" x="-10%" y="-60%" width="120%" height="220%"><feGaussianBlur stdDeviation="1.5"/></filter>
<filter id="bl2" x="-100%" y="-100%" width="300%" height="300%"><feGaussianBlur stdDeviation="1.2"/></filter>
<clipPath id="ce"><rect x="902" y="528.75" width="316" height="66.25"/><rect x="902" y="605" width="316" height="66"/><rect x="902" y="680.5" width="316" height="67"/></clipPath>
<linearGradient id="ge1" x1="0" y1="0" x2="0" y2="1"><stop offset="0" stop-color="rgb(216,216,216)"/><stop offset="0.15" stop-color="rgb(221,221,221)"/><stop offset="1" stop-color="rgb(216,216,216)"/></linearGradient>
<rect x="902" y="528.75" width="316" height="66.25" fill="url(#ge1)"/>
<linearGradient id="ge2" x1="0" y1="0" x2="0" y2="1"><stop offset="0" stop-color="rgb(203,203,203)"/><stop offset="0.12" stop-color="rgb(212,212,212)"/><stop offset="1" stop-color="rgb(204,204,204)"/></linearGradient>
<rect x="902" y="605" width="316" height="66" fill="url(#ge2)"/>
<linearGradient id="ge3" x1="0" y1="0" x2="0" y2="1"><stop offset="0" stop-color="rgb(172,172,172)"/><stop offset="0.12" stop-color="rgb(188,188,188)"/><stop offset="0.5" stop-color="rgb(192,192,192)"/><stop offset="1" stop-color="rgb(190,190,190)"/></linearGradient>
<rect x="902" y="680.5" width="316" height="67.0" fill="url(#ge3)"/>
<g clip-path="url(#ce)">
<ellipse cx="902" cy="536" rx="1.3" ry="4" fill="#111" opacity="0.6" filter="url(#bl2)"/>
<ellipse cx="902" cy="617" rx="1.8" ry="4" fill="#111" opacity="0.7" filter="url(#bl2)"/>
<ellipse cx="902" cy="653" rx="1.8" ry="3" fill="#111" opacity="0.6" filter="url(#bl2)"/>
<ellipse cx="902" cy="738" rx="1.2" ry="5" fill="#111" opacity="0.5" filter="url(#bl2)"/>
<path d="M922.0,551.9L924.8,550.3L927.5,549.7L930.3,549.4L933.1,549.4L935.9,549.4L938.6,549.4L941.4,549.5L944.2,549.6L947.0,549.6L949.8,549.6L952.5,549.6L955.3,549.6L958.1,549.5L960.9,549.4L963.6,549.4L966.4,549.4L969.2,549.4L972.0,549.7L974.7,550.3L977.5,551.9L977.5,551.9L974.7,554.0L972.0,555.0L969.2,555.6L966.4,556.0L963.6,556.2L960.9,556.4L958.1,556.5L955.3,556.6L952.5,556.6L949.8,556.6L947.0,556.6L944.2,556.6L941.4,556.5L938.6,556.4L935.9,556.2L933.1,556.0L930.3,555.6L927.5,555.0L924.8,554.0L922.0,551.9Z" fill="#060606" filter="url(#bl)"/>
<path d="M996.0,553.7L998.8,550.7L1001.5,549.5L1004.2,548.8L1007.0,548.5L1009.8,548.4L1012.5,548.3L1015.2,548.4L1018.0,548.4L1020.8,548.4L1023.5,548.4L1026.2,548.4L1029.0,548.4L1031.8,548.4L1034.5,548.3L1037.2,548.4L1040.0,548.5L1042.8,548.8L1045.5,549.5L1048.2,550.7L1051.0,553.7L1051.0,553.7L1048.2,556.9L1045.5,558.3L1042.8,559.2L1040.0,559.6L1037.2,559.9L1034.5,560.1L1031.8,560.1L1029.0,560.2L1026.2,560.2L1023.5,560.2L1020.8,560.2L1018.0,560.2L1015.2,560.1L1012.5,560.1L1009.8,559.9L1007.0,559.6L1004.2,559.2L1001.5,558.3L998.8,556.9L996.0,553.7Z" fill="#060606" filter="url(#bl)"/>
<path d="M1069.5,554.7L1072.3,552.0L1075.1,551.0L1077.9,550.6L1080.7,550.4L1083.5,550.4L1086.4,550.5L1089.2,550.6L1092.0,550.7L1094.8,550.8L1097.6,550.8L1100.4,550.8L1103.2,550.7L1106.0,550.6L1108.8,550.5L1111.7,550.4L1114.5,550.4L1117.3,550.6L1120.1,551.0L1122.9,552.0L1125.7,554.7L1125.7,554.7L1122.9,558.2L1120.1,559.9L1117.3,560.9L1114.5,561.5L1111.7,562.0L1108.8,562.2L1106.0,562.4L1103.2,562.5L1100.4,562.6L1097.6,562.6L1094.8,562.6L1092.0,562.5L1089.2,562.4L1086.4,562.2L1083.5,562.0L1080.7,561.5L1077.9,560.9L1075.1,559.9L1072.3,558.2L1069.5,554.7Z" fill="#060606" filter="url(#bl)"/>
<path d="M1143.6,556.6L1146.3,554.7L1149.1,553.8L1151.8,553.4L1154.6,553.1L1157.3,553.0L1160.1,552.9L1162.8,552.9L1165.6,552.9L1168.3,552.9L1171.0,552.9L1173.8,552.9L1176.5,552.9L1179.3,552.9L1182.0,552.9L1184.8,553.0L1187.5,553.1L1190.3,553.4L1193.0,553.8L1195.8,554.7L1198.5,556.6L1198.5,556.6L1195.8,558.5L1193.0,559.4L1190.3,559.8L1187.5,560.1L1184.8,560.2L1182.0,560.3L1179.3,560.3L1176.5,560.3L1173.8,560.3L1171.0,560.3L1168.3,560.3L1165.6,560.3L1162.8,560.3L1160.1,560.3L1157.3,560.2L1154.6,560.1L1151.8,559.8L1149.1,559.4L1146.3,558.5L1143.6,556.6Z" fill="#060606" filter="url(#bl)"/>
<path d="M924.8,629.8L927.5,626.3L930.2,624.8L932.8,624.1L935.5,623.7L938.2,623.6L940.9,623.5L943.6,623.5L946.2,623.6L948.9,623.6L951.6,623.6L954.3,623.6L957.0,623.6L959.6,623.5L962.3,623.5L965.0,623.6L967.7,623.7L970.4,624.1L973.0,624.8L975.7,626.3L978.4,629.8L978.4,629.8L975.7,633.6L973.0,635.3L970.4,636.3L967.7,636.9L965.0,637.2L962.3,637.4L959.6,637.5L957.0,637.6L954.3,637.6L951.6,637.6L948.9,637.6L946.2,637.6L943.6,637.5L940.9,637.4L938.2,637.2L935.5,636.9L932.8,636.3L930.2,635.3L927.5,633.6L924.8,629.8Z" fill="#060606" filter="url(#bl)"/>
<path d="M999.0,630.3L1001.5,628.2L1004.0,627.4L1006.6,626.9L1009.1,626.8L1011.6,626.7L1014.1,626.7L1016.7,626.7L1019.2,626.8L1021.7,626.8L1024.2,626.8L1026.8,626.8L1029.3,626.8L1031.8,626.7L1034.3,626.7L1036.9,626.7L1039.4,626.8L1041.9,626.9L1044.5,627.4L1047.0,628.2L1049.5,630.3L1049.5,630.3L1047.0,632.7L1044.5,633.8L1041.9,634.5L1039.4,634.9L1036.9,635.1L1034.3,635.2L1031.8,635.3L1029.3,635.4L1026.8,635.4L1024.2,635.4L1021.7,635.4L1019.2,635.4L1016.7,635.3L1014.1,635.2L1011.6,635.1L1009.1,634.9L1006.6,634.5L1004.0,633.8L1001.5,632.7L999.0,630.3Z" fill="#060606" filter="url(#bl)"/>
<path d="M1072.0,630.0L1074.5,628.0L1077.1,627.3L1079.7,626.9L1082.2,626.7L1084.8,626.6L1087.3,626.6L1089.8,626.6L1092.4,626.6L1095.0,626.6L1097.5,626.7L1100.0,626.6L1102.6,626.6L1105.2,626.6L1107.7,626.6L1110.2,626.6L1112.8,626.7L1115.3,626.9L1117.9,627.3L1120.5,628.0L1123.0,630.0L1123.0,630.0L1120.5,632.0L1117.9,633.0L1115.3,633.5L1112.8,633.9L1110.2,634.0L1107.7,634.1L1105.2,634.2L1102.6,634.2L1100.0,634.2L1097.5,634.2L1095.0,634.2L1092.4,634.2L1089.8,634.2L1087.3,634.1L1084.8,634.0L1082.2,633.9L1079.7,633.5L1077.1,633.0L1074.5,632.0L1072.0,630.0Z" fill="#060606" filter="url(#bl)"/>
<path d="M1144.5,631.5L1147.2,628.4L1149.9,627.2L1152.6,626.5L1155.3,626.2L1158.0,626.1L1160.7,626.1L1163.4,626.2L1166.1,626.2L1168.8,626.2L1171.5,626.2L1174.2,626.2L1176.9,626.2L1179.6,626.2L1182.3,626.1L1185.0,626.1L1187.7,626.2L1190.4,626.5L1193.1,627.2L1195.8,628.4L1198.5,631.5L1198.5,631.5L1195.8,635.0L1193.1,636.6L1190.4,637.5L1187.7,638.0L1185.0,638.4L1182.3,638.5L1179.6,638.6L1176.9,638.7L1174.2,638.7L1171.5,638.8L1168.8,638.7L1166.1,638.7L1163.4,638.6L1160.7,638.5L1158.0,638.4L1155.3,638.0L1152.6,637.5L1149.9,636.6L1147.2,635.0L1144.5,631.5Z" fill="#060606" filter="url(#bl)"/>
<path d="M922.0,706.0L924.8,701.8L927.6,700.0L930.5,699.2L933.3,698.7L936.1,698.6L938.9,698.6L941.7,698.6L944.6,698.7L947.4,698.7L950.2,698.7L953.0,698.7L955.8,698.7L958.7,698.6L961.5,698.6L964.3,698.6L967.1,698.7L969.9,699.2L972.8,700.0L975.6,701.8L978.4,706.0L978.4,706.0L975.6,710.7L972.8,712.8L969.9,714.1L967.1,714.8L964.3,715.2L961.5,715.4L958.7,715.6L955.8,715.7L953.0,715.7L950.2,715.7L947.4,715.7L944.6,715.7L941.7,715.6L938.9,715.4L936.1,715.2L933.3,714.8L930.5,714.1L927.6,712.8L924.8,710.7L922.0,706.0Z" fill="#060606" filter="url(#bl)"/>
<path d="M996.0,707.7L998.9,703.4L1001.7,701.7L1004.6,700.8L1007.5,700.3L1010.4,700.1L1013.2,700.1L1016.1,700.1L1019.0,700.2L1021.8,700.2L1024.7,700.2L1027.6,700.2L1030.4,700.2L1033.3,700.1L1036.2,700.1L1039.1,700.1L1041.9,700.3L1044.8,700.8L1047.7,701.7L1050.5,703.4L1053.4,707.7L1053.4,707.7L1050.5,712.4L1047.7,714.4L1044.8,715.7L1041.9,716.4L1039.1,716.8L1036.2,717.0L1033.3,717.1L1030.4,717.2L1027.6,717.2L1024.7,717.2L1021.8,717.2L1019.0,717.2L1016.1,717.1L1013.2,717.0L1010.4,716.8L1007.5,716.4L1004.6,715.7L1001.7,714.4L998.9,712.4L996.0,707.7Z" fill="#060606" filter="url(#bl)"/>
<path d="M1071.0,704.3L1073.9,700.5L1076.7,699.0L1079.6,698.2L1082.5,697.9L1085.3,697.7L1088.2,697.7L1091.1,697.7L1094.0,697.8L1096.8,697.8L1099.7,697.8L1102.6,697.8L1105.4,697.8L1108.3,697.7L1111.2,697.7L1114.1,697.7L1116.9,697.9L1119.8,698.2L1122.7,699.0L1125.5,700.5L1128.4,704.3L1128.4,704.3L1125.5,708.4L1122.7,710.3L1119.8,711.4L1116.9,712.0L1114.1,712.4L1111.2,712.6L1108.3,712.7L1105.4,712.8L1102.6,712.8L1099.7,712.8L1096.8,712.8L1094.0,712.8L1091.1,712.7L1088.2,712.6L1085.3,712.4L1082.5,712.0L1079.6,711.4L1076.7,710.3L1073.9,708.4L1071.0,704.3Z" fill="#060606" filter="url(#bl)"/>
<path d="M1147.0,703.8L1149.8,699.5L1152.5,697.6L1155.3,696.4L1158.1,695.7L1160.9,695.3L1163.7,695.0L1166.4,694.9L1169.2,694.8L1172.0,694.8L1174.8,694.8L1177.5,694.8L1180.3,694.8L1183.1,694.9L1185.8,695.0L1188.6,695.3L1191.4,695.7L1194.2,696.4L1197.0,697.6L1199.7,699.5L1202.5,703.8L1202.5,703.8L1199.7,707.4L1197.0,708.8L1194.2,709.6L1191.4,709.9L1188.6,710.0L1185.8,709.9L1183.1,709.9L1180.3,709.8L1177.5,709.8L1174.8,709.8L1172.0,709.8L1169.2,709.8L1166.4,709.9L1163.7,709.9L1160.9,710.0L1158.1,709.9L1155.3,709.6L1152.5,708.8L1149.8,707.4L1147.0,703.8Z" fill="#060606" filter="url(#bl)"/>
</g>
<text x="765.30" y="555.00" font-size="27.8" class="r" textLength="115.92" lengthAdjust="spacingAndGlyphs" >Cleaved-</text>
<text x="765.67" y="588.75" font-size="27.8" class="r" textLength="124.12" lengthAdjust="spacingAndGlyphs" >caspase-3</text>
<text x="805.77" y="651.75" font-size="27.8" class="r" textLength="80.46" lengthAdjust="spacingAndGlyphs" >MMP9</text>
<text x="791.89" y="724.25" font-size="27.8" class="r" textLength="96.56" lengthAdjust="spacingAndGlyphs" >GAPDH</text>
<text x="1225.92" y="567.50" font-size="27.8" class="r" textLength="64.64" lengthAdjust="spacingAndGlyphs" >17Kd</text>
<text x="1229.99" y="653.75" font-size="27.8" class="r" textLength="65.61" lengthAdjust="spacingAndGlyphs" >92Kd</text>
<text x="1228.38" y="728.75" font-size="27.8" class="r" textLength="65.46" lengthAdjust="spacingAndGlyphs" >37Kd</text>
<clipPath id="cf"><rect x="1573.25" y="528.5" width="315.25" height="66.5"/><rect x="1573.25" y="605.75" width="315.25" height="66.25"/><rect x="1573.25" y="679.75" width="315.25" height="66.5"/></clipPath>
<linearGradient id="gf1" x1="0" y1="0" x2="0" y2="1"><stop offset="0" stop-color="rgb(214,214,214)"/><stop offset="0.12" stop-color="rgb(222,222,222)"/><stop offset="1" stop-color="rgb(221,221,221)"/></linearGradient>
<rect x="1573.25" y="528.5" width="315.25" height="66.5" fill="url(#gf1)"/>
<linearGradient id="gf2" x1="0" y1="0" x2="0" y2="1"><stop offset="0" stop-color="rgb(190,190,190)"/><stop offset="0.12" stop-color="rgb(203,203,203)"/><stop offset="1" stop-color="rgb(199,199,199)"/></linearGradient>
<rect x="1573.25" y="605.75" width="315.25" height="66.25" fill="url(#gf2)"/>
<linearGradient id="gf3" x1="0" y1="0" x2="0" y2="1"><stop offset="0" stop-color="rgb(196,196,196)"/><stop offset="0.15" stop-color="rgb(204,204,204)"/><stop offset="1" stop-color="rgb(203,203,203)"/></linearGradient>
<rect x="1573.25" y="679.75" width="315.25" height="66.5" fill="url(#gf3)"/>
<g clip-path="url(#cf)">
<ellipse cx="1573.5" cy="544" rx="1.6" ry="4.5" fill="#111" opacity="0.8" filter="url(#bl2)"/>
<ellipse cx="1699.3" cy="588" rx="1.4" ry="1.2" fill="#111" opacity="0.6" filter="url(#bl2)"/>
<ellipse cx="1573.5" cy="622" rx="1.4" ry="3.5" fill="#111" opacity="0.5" filter="url(#bl2)"/>
<ellipse cx="1573.5" cy="655" rx="1.4" ry="3.5" fill="#111" opacity="0.4" filter="url(#bl2)"/>
<path d="M1597.5,557.8L1600.2,556.2L1602.9,555.6L1605.6,555.3L1608.3,555.3L1611.0,555.3L1613.7,555.3L1616.4,555.4L1619.1,555.5L1621.8,555.5L1624.5,555.5L1627.2,555.5L1629.9,555.5L1632.6,555.4L1635.3,555.3L1638.0,555.3L1640.7,555.3L1643.4,555.3L1646.1,555.6L1648.8,556.2L1651.5,557.8L1651.5,557.8L1648.8,559.9L1646.1,560.9L1643.4,561.5L1640.7,561.9L1638.0,562.1L1635.3,562.3L1632.6,562.4L1629.9,562.5L1627.2,562.5L1624.5,562.5L1621.8,562.5L1619.1,562.5L1616.4,562.4L1613.7,562.3L1611.0,562.1L1608.3,561.9L1605.6,561.5L1602.9,560.9L1600.2,559.9L1597.5,557.8Z" fill="#060606" filter="url(#bl)"/>
<path d="M1670.7,559.8L1673.5,556.7L1676.3,555.4L1679.1,554.7L1681.9,554.4L1684.7,554.3L1687.4,554.3L1690.2,554.3L1693.0,554.3L1695.8,554.3L1698.6,554.4L1701.4,554.3L1704.2,554.3L1707.0,554.3L1709.8,554.3L1712.5,554.3L1715.3,554.4L1718.1,554.7L1720.9,555.4L1723.7,556.7L1726.5,559.8L1726.5,559.8L1723.7,563.2L1720.9,564.8L1718.1,565.7L1715.3,566.2L1712.5,566.5L1709.8,566.7L1707.0,566.8L1704.2,566.8L1701.4,566.8L1698.6,566.9L1695.8,566.8L1693.0,566.8L1690.2,566.8L1687.4,566.7L1684.7,566.5L1681.9,566.2L1679.1,565.7L1676.3,564.8L1673.5,563.2L1670.7,559.8Z" fill="#060606" filter="url(#bl)"/>
<path d="M1744.8,558.1L1747.6,555.0L1750.5,553.6L1753.3,552.9L1756.1,552.6L1758.9,552.4L1761.8,552.4L1764.6,552.4L1767.4,552.4L1770.2,552.4L1773.0,552.4L1775.9,552.4L1778.7,552.4L1781.5,552.4L1784.3,552.4L1787.2,552.4L1790.0,552.6L1792.8,552.9L1795.6,553.6L1798.5,555.0L1801.3,558.1L1801.3,558.1L1798.5,561.5L1795.6,563.0L1792.8,563.9L1790.0,564.4L1787.2,564.6L1784.3,564.8L1781.5,564.8L1778.7,564.9L1775.9,564.9L1773.0,564.9L1770.2,564.9L1767.4,564.9L1764.6,564.8L1761.8,564.8L1758.9,564.6L1756.1,564.4L1753.3,563.9L1750.5,563.0L1747.6,561.5L1744.8,558.1Z" fill="#060606" filter="url(#bl)"/>
<path d="M1819.0,557.9L1821.8,556.0L1824.7,555.3L1827.5,554.9L1830.4,554.8L1833.2,554.7L1836.1,554.8L1839.0,554.8L1841.8,554.9L1844.7,554.9L1847.5,554.9L1850.3,554.9L1853.2,554.9L1856.0,554.8L1858.9,554.8L1861.8,554.7L1864.6,554.8L1867.5,554.9L1870.3,555.3L1873.2,556.0L1876.0,557.9L1876.0,557.9L1873.2,560.2L1870.3,561.3L1867.5,561.9L1864.6,562.3L1861.8,562.6L1858.9,562.7L1856.0,562.8L1853.2,562.9L1850.3,562.9L1847.5,562.9L1844.7,562.9L1841.8,562.9L1839.0,562.8L1836.1,562.7L1833.2,562.6L1830.4,562.3L1827.5,561.9L1824.7,561.3L1821.8,560.2L1819.0,557.9Z" fill="#060606" filter="url(#bl)"/>
<path d="M1595.7,634.7L1598.5,631.4L1601.3,630.0L1604.0,629.3L1606.8,629.0L1609.6,628.9L1612.4,628.9L1615.2,628.9L1617.9,629.0L1620.7,629.0L1623.5,629.0L1626.3,629.0L1629.1,629.0L1631.8,628.9L1634.6,628.9L1637.4,628.9L1640.2,629.0L1643.0,629.3L1645.7,630.0L1648.5,631.4L1651.3,634.7L1651.3,634.7L1648.5,638.4L1645.7,640.1L1643.0,641.1L1640.2,641.7L1637.4,642.0L1634.6,642.2L1631.8,642.3L1629.1,642.4L1626.3,642.4L1623.5,642.4L1620.7,642.4L1617.9,642.4L1615.2,642.3L1612.4,642.2L1609.6,642.0L1606.8,641.7L1604.0,641.1L1601.3,640.1L1598.5,638.4L1595.7,634.7Z" fill="#060606" filter="url(#bl)"/>
<path d="M1669.8,635.2L1672.4,633.3L1675.0,632.6L1677.6,632.2L1680.2,632.1L1682.8,632.2L1685.4,632.3L1688.0,632.5L1690.6,632.6L1693.2,632.8L1695.8,633.0L1698.4,633.2L1701.0,633.4L1703.6,633.5L1706.2,633.7L1708.8,634.0L1711.4,634.3L1714.0,634.8L1716.6,635.4L1719.2,636.5L1721.8,638.8L1721.8,638.8L1719.2,640.7L1716.6,641.4L1714.0,641.8L1711.4,641.9L1708.8,641.8L1706.2,641.7L1703.6,641.5L1701.0,641.4L1698.4,641.2L1695.8,641.0L1693.2,640.8L1690.6,640.6L1688.0,640.5L1685.4,640.3L1682.8,640.0L1680.2,639.7L1677.6,639.2L1675.0,638.6L1672.4,637.5L1669.8,635.2Z" fill="#060606" filter="url(#bl)"/>
<path d="M1743.0,638.8L1745.6,636.9L1748.2,636.2L1750.8,636.0L1753.4,635.9L1756.0,636.0L1758.6,636.1L1761.2,636.3L1763.8,636.6L1766.4,636.8L1769.0,637.0L1771.6,637.2L1774.2,637.4L1776.8,637.7L1779.4,637.9L1782.0,638.2L1784.6,638.5L1787.2,639.0L1789.8,639.8L1792.4,640.9L1795.0,643.2L1795.0,643.2L1792.4,645.1L1789.8,645.8L1787.2,646.0L1784.6,646.1L1782.0,646.0L1779.4,645.9L1776.8,645.7L1774.2,645.4L1771.6,645.2L1769.0,645.0L1766.4,644.8L1763.8,644.6L1761.2,644.3L1758.6,644.1L1756.0,643.8L1753.4,643.5L1750.8,643.0L1748.2,642.2L1745.6,641.1L1743.0,638.8Z" fill="#060606" filter="url(#bl)"/>
<path d="M1814.5,645.4L1817.4,642.1L1820.2,640.7L1823.1,640.0L1826.0,639.7L1828.8,639.6L1831.7,639.6L1834.6,639.6L1837.4,639.7L1840.3,639.7L1843.2,639.7L1846.0,639.7L1848.9,639.7L1851.7,639.6L1854.6,639.6L1857.5,639.6L1860.3,639.7L1863.2,640.0L1866.1,640.7L1868.9,642.1L1871.8,645.4L1871.8,645.4L1868.9,649.1L1866.1,650.8L1863.2,651.8L1860.3,652.4L1857.5,652.7L1854.6,652.9L1851.7,653.0L1848.9,653.1L1846.0,653.1L1843.2,653.1L1840.3,653.1L1837.4,653.1L1834.6,653.0L1831.7,652.9L1828.8,652.7L1826.0,652.4L1823.1,651.8L1820.2,650.8L1817.4,649.1L1814.5,645.4Z" fill="#060606" filter="url(#bl)"/>
<path d="M1588.6,715.1L1591.4,711.5L1594.2,710.0L1597.0,709.2L1599.8,708.9L1602.6,708.7L1605.4,708.7L1608.2,708.7L1611.0,708.7L1613.8,708.7L1616.5,708.8L1619.3,708.7L1622.1,708.7L1624.9,708.7L1627.7,708.7L1630.5,708.7L1633.3,708.9L1636.1,709.2L1638.9,710.0L1641.7,711.5L1644.5,715.1L1644.5,715.1L1641.7,719.0L1638.9,720.8L1636.1,721.8L1633.3,722.4L1630.5,722.7L1627.7,722.9L1624.9,723.0L1622.1,723.0L1619.3,723.0L1616.5,723.0L1613.8,723.0L1611.0,723.0L1608.2,723.0L1605.4,722.9L1602.6,722.7L1599.8,722.4L1597.0,721.8L1594.2,720.8L1591.4,719.0L1588.6,715.1Z" fill="#060606" filter="url(#bl)"/>
<path d="M1661.8,716.0L1664.7,712.5L1667.5,711.0L1670.4,710.3L1673.3,709.9L1676.2,709.8L1679.0,709.7L1681.9,709.7L1684.8,709.8L1687.7,709.8L1690.5,709.8L1693.4,709.8L1696.3,709.8L1699.2,709.7L1702.0,709.7L1704.9,709.8L1707.8,709.9L1710.7,710.3L1713.5,711.0L1716.4,712.5L1719.3,716.0L1719.3,716.0L1716.4,719.8L1713.5,721.5L1710.7,722.5L1707.8,723.1L1704.9,723.4L1702.0,723.6L1699.2,723.7L1696.3,723.8L1693.4,723.8L1690.5,723.8L1687.7,723.8L1684.8,723.8L1681.9,723.7L1679.0,723.6L1676.2,723.4L1673.3,723.1L1670.4,722.5L1667.5,721.5L1664.7,719.8L1661.8,716.0Z" fill="#060606" filter="url(#bl)"/>
<path d="M1738.6,714.9L1741.4,711.1L1744.2,709.4L1747.0,708.5L1749.8,707.9L1752.6,707.6L1755.4,707.4L1758.2,707.4L1761.0,707.3L1763.8,707.3L1766.5,707.3L1769.3,707.3L1772.1,707.3L1774.9,707.4L1777.7,707.4L1780.5,707.6L1783.3,707.9L1786.1,708.5L1788.9,709.4L1791.7,711.1L1794.5,714.9L1794.5,714.9L1791.7,718.5L1788.9,719.9L1786.1,720.7L1783.3,721.1L1780.5,721.3L1777.7,721.3L1774.9,721.3L1772.1,721.3L1769.3,721.3L1766.5,721.3L1763.8,721.3L1761.0,721.3L1758.2,721.3L1755.4,721.3L1752.6,721.3L1749.8,721.1L1747.0,720.7L1744.2,719.9L1741.4,718.5L1738.6,714.9Z" fill="#060606" filter="url(#bl)"/>
<path d="M1812.7,713.4L1815.6,709.5L1818.5,707.8L1821.4,706.8L1824.4,706.2L1827.3,705.8L1830.2,705.6L1833.1,705.5L1836.0,705.4L1838.9,705.4L1841.8,705.4L1844.8,705.4L1847.7,705.4L1850.6,705.5L1853.5,705.6L1856.4,705.8L1859.3,706.2L1862.3,706.8L1865.2,707.8L1868.1,709.5L1871.0,713.4L1871.0,713.4L1868.1,716.9L1865.2,718.3L1862.3,719.0L1859.3,719.4L1856.4,719.5L1853.5,719.5L1850.6,719.5L1847.7,719.4L1844.8,719.4L1841.8,719.4L1838.9,719.4L1836.0,719.4L1833.1,719.5L1830.2,719.5L1827.3,719.5L1824.4,719.4L1821.4,719.0L1818.5,718.3L1815.6,716.9L1812.7,713.4Z" fill="#060606" filter="url(#bl)"/>
</g>
<text x="1442.31" y="559.25" font-size="27.8" class="r" textLength="115.15" lengthAdjust="spacingAndGlyphs" >Cleaved-</text>
<text x="1442.68" y="593.75" font-size="27.8" class="r" textLength="123.87" lengthAdjust="spacingAndGlyphs" >caspase-3</text>
<text x="1484.52" y="656.25" font-size="27.8" class="r" textLength="80.46" lengthAdjust="spacingAndGlyphs" >MMP9</text>
<text x="1461.13" y="726.75" font-size="27.8" class="r" textLength="97.34" lengthAdjust="spacingAndGlyphs" >GAPDH</text>
<text x="1899.55" y="562.30" font-size="27.8" class="r" textLength="63.95" lengthAdjust="spacingAndGlyphs" >17Kd</text>
<text x="1903.44" y="649.00" font-size="27.8" class="r" textLength="65.61" lengthAdjust="spacingAndGlyphs" >92Kd</text>
<text x="1901.68" y="723.20" font-size="27.8" class="r" textLength="65.56" lengthAdjust="spacingAndGlyphs" >37Kd</text>
</svg>
</body></html>
